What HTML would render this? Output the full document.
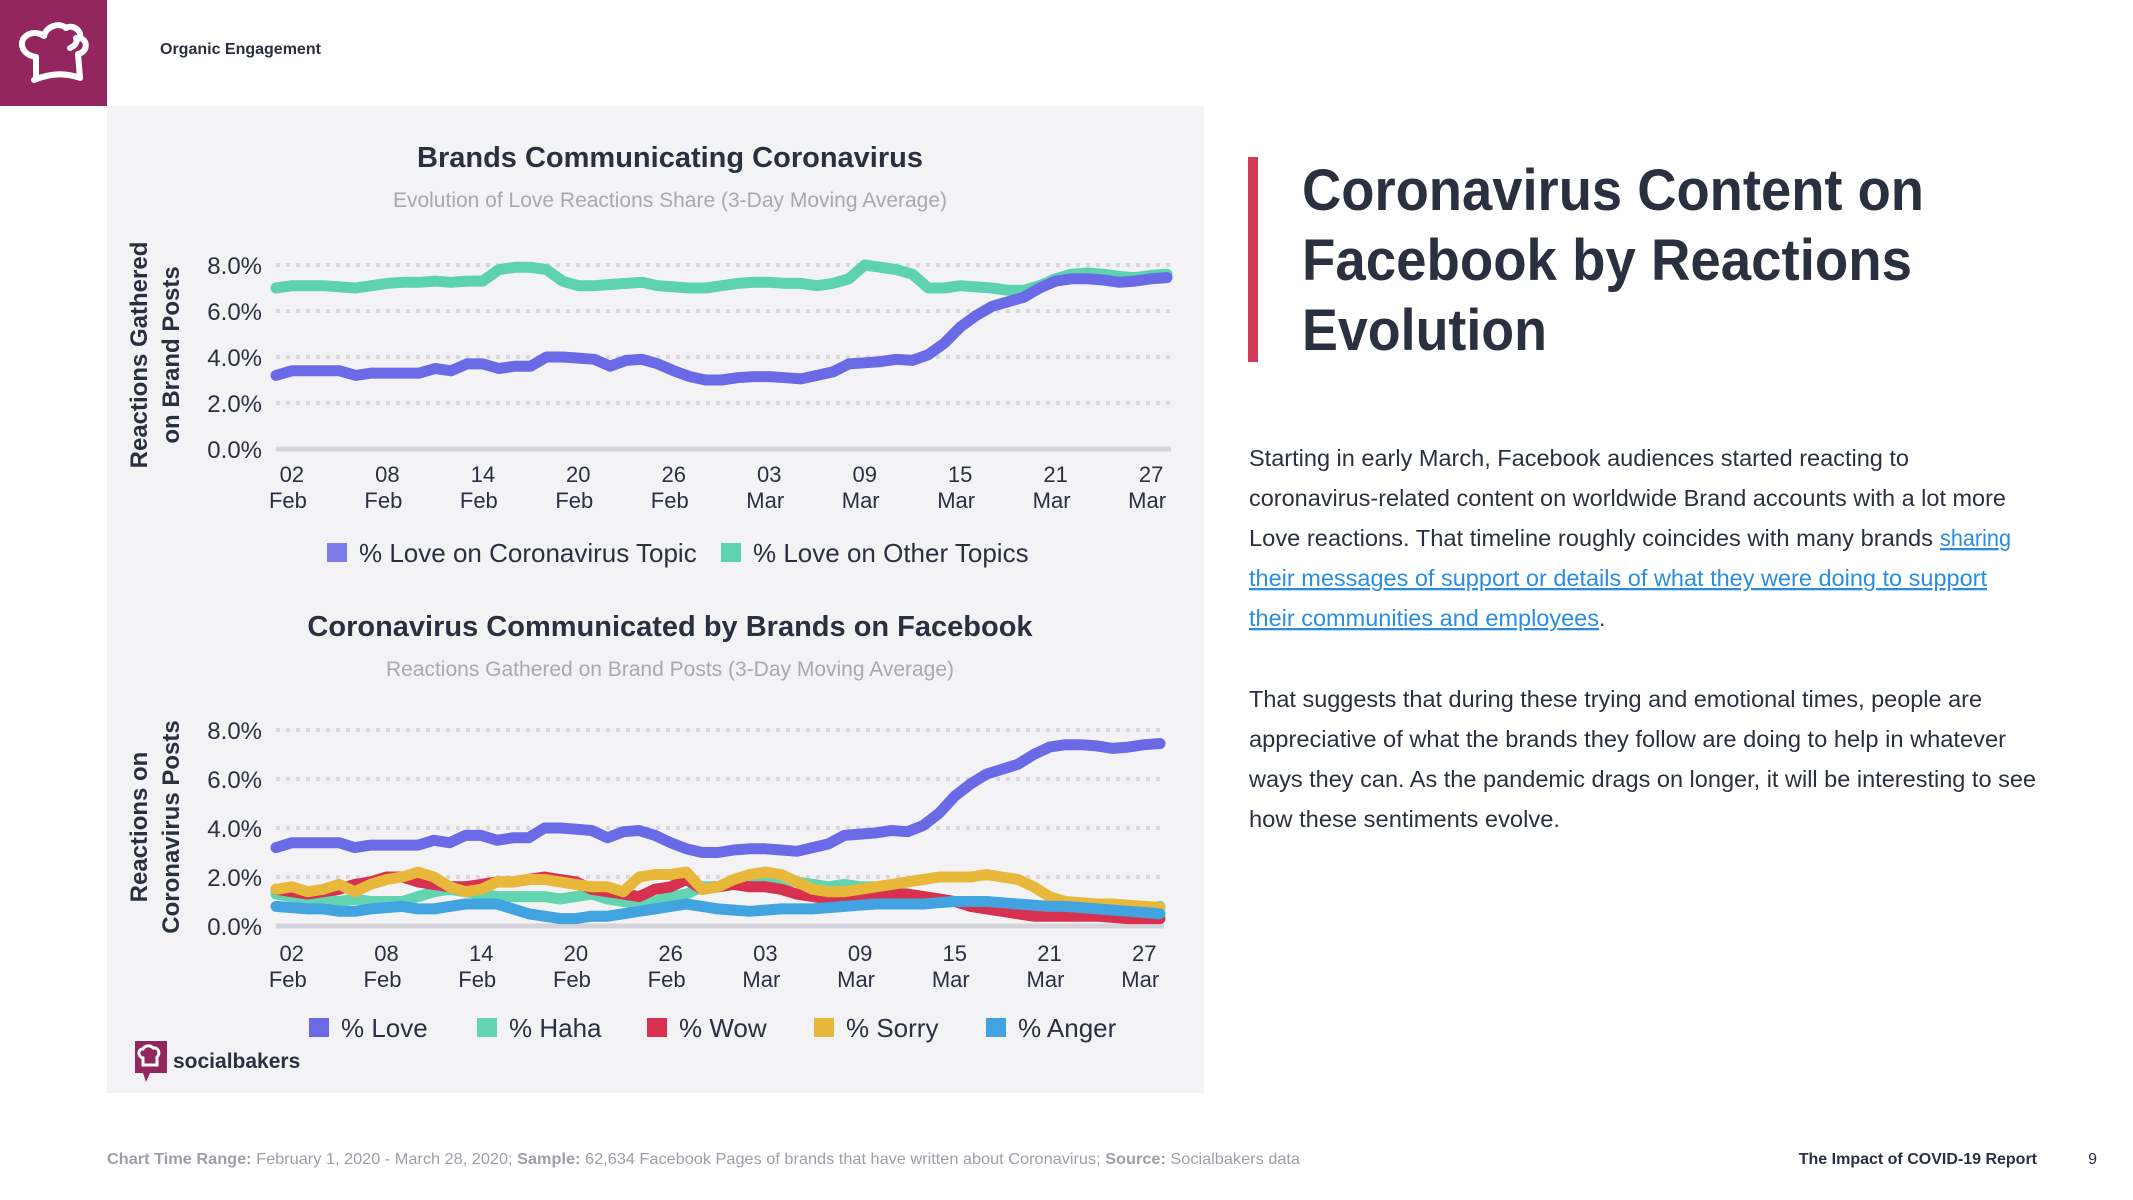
<!DOCTYPE html>
<html><head><meta charset="utf-8"><style>
html,body{margin:0;padding:0;background:#fff;}
svg{display:block;font-family:"Liberation Sans",sans-serif;}
</style></head><body>
<svg id="page" width="2133" height="1200" viewBox="0 0 2133 1200" xmlns="http://www.w3.org/2000/svg">
<rect x="0" y="0" width="107" height="106" fill="#93265e"/>
<g fill="none" stroke="#fff" stroke-width="6" stroke-linejoin="round" stroke-linecap="round">
<path d="M36 77 L36 57 C22 55 18 42 26 36 C32 31 40 33 44 36 C46 26 60 22 66 28 C72 24 82 30 80 38 C88 40 88 52 78 54 L80 78 C64 72 48 74 34 80"/>
<path d="M70 48 C75 46 78 42 76 38"/>
</g>
<text x="160" y="54" font-size="16" font-weight="bold" fill="#2b3040">Organic Engagement</text>
<rect x="107" y="106" width="1097" height="987" fill="#f3f3f6"/>

<text x="670" y="167" text-anchor="middle" font-size="29" font-weight="bold" fill="#2b3040">Brands Communicating Coronavirus</text>
<text x="670" y="207" text-anchor="middle" font-size="21" fill="#a7a9b2">Evolution of Love Reactions Share (3-Day Moving Average)</text>
<g font-size="24" font-weight="bold" fill="#2b3040" text-anchor="middle">
<text transform="translate(147,355) rotate(-90)">Reactions Gathered</text>
<text transform="translate(179,355) rotate(-90)">on Brand Posts</text>
</g>
<g id="c1"></g>

<text x="670" y="636" text-anchor="middle" font-size="29" font-weight="bold" fill="#2b3040">Coronavirus Communicated by Brands on Facebook</text>
<text x="670" y="676" text-anchor="middle" font-size="21" fill="#a7a9b2">Reactions Gathered on Brand Posts (3-Day Moving Average)</text>
<g font-size="24" font-weight="bold" fill="#2b3040" text-anchor="middle">
<text transform="translate(147,827) rotate(-90)">Reactions on</text>
<text transform="translate(179,827) rotate(-90)">Coronavirus Posts</text>
</g>
<g id="c2"></g>

<g>
<path d="M135 1041 H167 V1073 H150 L146 1082 L143 1073 H135 Z" fill="#93265e"/>
<path d="M143 1065 V1058 C137 1056 138 1049 143 1049 C145 1045 151 1045 153 1048 C158 1047 161 1053 157 1057 L157 1065 Z" fill="none" stroke="#fff" stroke-width="3"/>
<text x="173" y="1068" font-size="21" font-weight="bold" fill="#2b3040">socialbakers</text>
</g>

<rect x="1248" y="157" width="10" height="205" fill="#d33a5a"/>
<g font-size="58" font-weight="bold" fill="#2b3040">
<text x="1302" y="210" textLength="622" lengthAdjust="spacingAndGlyphs">Coronavirus Content on</text>
<text x="1302" y="280" textLength="610" lengthAdjust="spacingAndGlyphs">Facebook by Reactions</text>
<text x="1302" y="350" textLength="245" lengthAdjust="spacingAndGlyphs">Evolution</text>
</g>
<g font-size="23" fill="#2b3040">
<text x="1249" y="466" textLength="660" lengthAdjust="spacingAndGlyphs">Starting in early March, Facebook audiences started reacting to</text>
<text x="1249" y="506" textLength="757" lengthAdjust="spacingAndGlyphs">coronavirus-related content on worldwide Brand accounts with a lot more</text>
<text x="1249" y="546" textLength="684" lengthAdjust="spacingAndGlyphs">Love reactions. That timeline roughly coincides with many brands</text>
<text x="1249" y="586" fill="#2a8de0" text-decoration="underline" textLength="738" lengthAdjust="spacingAndGlyphs">their messages of support or details of what they were doing to support</text>
<text x="1249" y="626" fill="#2a8de0" text-decoration="underline" textLength="350" lengthAdjust="spacingAndGlyphs">their communities and employees</text>
<text x="1599" y="626">.</text>
</g>
<text x="1940" y="546" font-size="23" fill="#2a8de0" text-decoration="underline" textLength="71" lengthAdjust="spacingAndGlyphs">sharing</text>
<g font-size="23" fill="#2b3040">
<text x="1249" y="707" textLength="733" lengthAdjust="spacingAndGlyphs">That suggests that during these trying and emotional times, people are</text>
<text x="1249" y="747" textLength="757" lengthAdjust="spacingAndGlyphs">appreciative of what the brands they follow are doing to help in whatever</text>
<text x="1249" y="787" textLength="787" lengthAdjust="spacingAndGlyphs">ways they can. As the pandemic drags on longer, it will be interesting to see</text>
<text x="1249" y="827" textLength="311" lengthAdjust="spacingAndGlyphs">how these sentiments evolve.</text>
</g>
<text x="107" y="1164" font-size="16" fill="#9d9fa7" textLength="1193" lengthAdjust="spacingAndGlyphs"><tspan font-weight="bold">Chart Time Range:</tspan> February 1, 2020 - March 28, 2020; <tspan font-weight="bold">Sample:</tspan> 62,634 Facebook Pages of brands that have written about Coronavirus; <tspan font-weight="bold">Source:</tspan> Socialbakers data</text>
<text x="2037" y="1164" text-anchor="end" font-size="16" font-weight="bold" fill="#2b3040">The Impact of COVID-19 Report</text>
<text x="2097" y="1164" text-anchor="end" font-size="16" fill="#2b3040">9</text>
</svg>
<script>
const tickIdx=[1,7,13,19,25,31,37,43,49,55];
const tickDay=["02","08","14","20","26","03","09","15","21","27"];
const tickMon=["Feb","Feb","Feb","Feb","Feb","Mar","Mar","Mar","Mar","Mar"];
const yTicks=[0,2,4,6,8];
const yTickLabels=["0.0%","2.0%","4.0%","6.0%","8.0%"];
const loveCorona=[3.2,3.4,3.4,3.4,3.4,3.2,3.3,3.3,3.3,3.3,3.5,3.4,3.7,3.7,3.5,3.6,3.6,4.0,4.0,3.95,3.9,3.6,3.85,3.9,3.7,3.4,3.15,3.0,3.0,3.1,3.15,3.15,3.1,3.05,3.2,3.35,3.7,3.75,3.8,3.9,3.85,4.1,4.6,5.3,5.8,6.2,6.4,6.6,7.0,7.3,7.4,7.4,7.35,7.25,7.3,7.4,7.45];
const loveOther=[7.0,7.1,7.1,7.1,7.05,7.0,7.1,7.2,7.25,7.25,7.3,7.25,7.3,7.3,7.8,7.9,7.9,7.8,7.3,7.1,7.1,7.15,7.2,7.25,7.1,7.05,7.0,7.0,7.1,7.2,7.25,7.25,7.2,7.2,7.1,7.2,7.4,8.0,7.9,7.8,7.6,7.0,7.0,7.1,7.05,7.0,6.9,6.9,7.1,7.4,7.6,7.65,7.6,7.5,7.45,7.55,7.6];
const love=[3.2,3.4,3.4,3.4,3.4,3.2,3.3,3.3,3.3,3.3,3.5,3.4,3.7,3.7,3.5,3.6,3.6,4.0,4.0,3.95,3.9,3.6,3.85,3.9,3.7,3.4,3.15,3.0,3.0,3.1,3.15,3.15,3.1,3.05,3.2,3.35,3.7,3.75,3.8,3.9,3.85,4.1,4.6,5.3,5.8,6.2,6.4,6.6,7.0,7.3,7.4,7.4,7.35,7.25,7.3,7.4,7.45];
const haha=[1.3,1.2,1.1,1.1,1.0,1.1,1.0,1.0,1.0,1.2,1.4,1.5,1.4,1.3,1.2,1.2,1.2,1.2,1.1,1.2,1.3,1.1,1.0,0.9,1.0,1.2,1.3,1.6,1.6,1.8,2.0,2.0,1.9,1.8,1.7,1.6,1.7,1.6,1.6,1.5,1.3,1.2,1.1,1.0,0.9,0.9,0.9,0.9,0.8,0.8,0.8,0.8,0.7,0.7,0.7,0.7,0.8];
const wow=[1.5,1.4,1.3,1.4,1.5,1.7,1.8,2.0,2.0,1.8,1.7,1.6,1.6,1.7,1.8,1.8,1.9,2.0,1.9,1.8,1.5,1.4,1.3,1.2,1.5,1.6,1.9,1.5,1.6,1.7,1.6,1.6,1.5,1.3,1.2,1.1,1.1,1.2,1.3,1.3,1.3,1.2,1.1,1.0,0.8,0.7,0.6,0.5,0.4,0.4,0.4,0.4,0.4,0.35,0.3,0.3,0.3];
const sorry=[1.5,1.6,1.4,1.5,1.7,1.4,1.7,1.9,2.0,2.2,2.0,1.6,1.4,1.5,1.8,1.8,1.9,1.9,1.8,1.7,1.6,1.6,1.4,2.0,2.1,2.1,2.2,1.5,1.6,1.9,2.1,2.2,2.1,1.8,1.5,1.4,1.4,1.5,1.6,1.7,1.8,1.9,2.0,2.0,2.0,2.1,2.0,1.9,1.6,1.2,1.0,0.95,0.9,0.9,0.85,0.8,0.75];
const anger=[0.8,0.75,0.7,0.7,0.6,0.6,0.7,0.75,0.8,0.7,0.7,0.8,0.9,0.9,0.9,0.7,0.5,0.4,0.3,0.3,0.4,0.4,0.5,0.6,0.7,0.8,0.9,0.8,0.7,0.65,0.6,0.65,0.7,0.7,0.7,0.75,0.8,0.85,0.9,0.9,0.9,0.9,0.95,1.0,1.0,1.0,0.95,0.9,0.85,0.8,0.8,0.75,0.7,0.65,0.6,0.55,0.5];
const legend1=["% Love on Coronavirus Topic","% Love on Other Topics"];
const legend2=["% Love","% Haha","% Wow","% Sorry","% Anger"];

const NS="http://www.w3.org/2000/svg";
function mk(tag,attrs,parent){const e=document.createElementNS(NS,tag);for(const k in attrs)e.setAttribute(k,attrs[k]);parent.appendChild(e);return e;}

function drawChart(gid,cfg){
  const g=document.getElementById(gid);
  const xs=i=>cfg.x0+i*(cfg.x1-cfg.x0)/56;
  const ys=v=>cfg.y0-v*(cfg.y0-cfg.y8)/8;
  yTicks.forEach((t,k)=>{
    const y=ys(t);
    const ln=mk('line',{x1:cfg.x0,x2:cfg.x1+4,y1:y,y2:y,stroke:t===0?'#d4d4da':'#d8d8de','stroke-width':t===0?5:4,'stroke-dasharray':t===0?'none':'4 6'},g);
    
    
    const tx=mk('text',{x:262,y:y+9,'text-anchor':'end','font-size':24,fill:'#2b3040'},g);
    tx.textContent=yTickLabels[k];
    
    
  });
  tickIdx.forEach((ti,k)=>{
    const x=xs(ti);
    const a=mk('text',{x:x,y:cfg.ty,'text-anchor':'middle','font-size':22,fill:'#2b3040'},g);
    a.textContent=tickDay[k];
    
    
    const b=mk('text',{x:x-4,y:cfg.ty+26,'text-anchor':'middle','font-size':22,fill:'#2b3040'},g);
    b.textContent=tickMon[k];
    
    
  });
  cfg.series.forEach(s=>{
    const d=s.data.map((v,i)=>(i?'L':'M')+xs(i).toFixed(1)+' '+ys(v).toFixed(1)).join(' ');
    const p=mk('path',{d:d,fill:'none',stroke:s.color,'stroke-width':11,'stroke-linejoin':'round','stroke-linecap':'round'},g);
    
    
  });
  cfg.legend.forEach(l=>{
    const r=mk('rect',{x:l.x,y:cfg.ly-17,width:20,height:19,fill:l.color},g);
    
    
    const t=mk('text',{x:l.x+32,y:cfg.ly+2,'font-size':26,fill:'#2b3040'},g);
    t.textContent=l.label;
    
    
  });
}
const C={love:'#6a6ae6',other:'#5dd2af',haha:'#62d4af',wow:'#d8304f',sorry:'#e8b83a',anger:'#41a3e0'};
drawChart('c1',{x0:276,x1:1167,y0:449,y8:265,ty:482,ly:560,
  series:[{data:loveOther,color:C.other,name:'line-love-other-topics'},{data:loveCorona,color:C.love,name:'line-love-coronavirus'}],
  legend:[{x:327,color:'#7b7be9',label:legend1[0]},{x:721,color:C.other,label:legend1[1]}]});
drawChart('c2',{x0:276,x1:1160,y0:926,y8:730,ty:961,ly:1035,
  series:[{data:haha,color:C.haha,name:'line-haha'},{data:wow,color:C.wow,name:'line-wow'},{data:sorry,color:C.sorry,name:'line-sorry'},{data:anger,color:C.anger,name:'line-anger'},{data:love,color:C.love,name:'line-love'}],
  legend:[{x:309,color:C.love,label:legend2[0]},{x:477,color:C.haha,label:legend2[1]},{x:647,color:C.wow,label:legend2[2]},{x:814,color:C.sorry,label:legend2[3]},{x:986,color:C.anger,label:legend2[4]}]});
</script>
</body></html>
